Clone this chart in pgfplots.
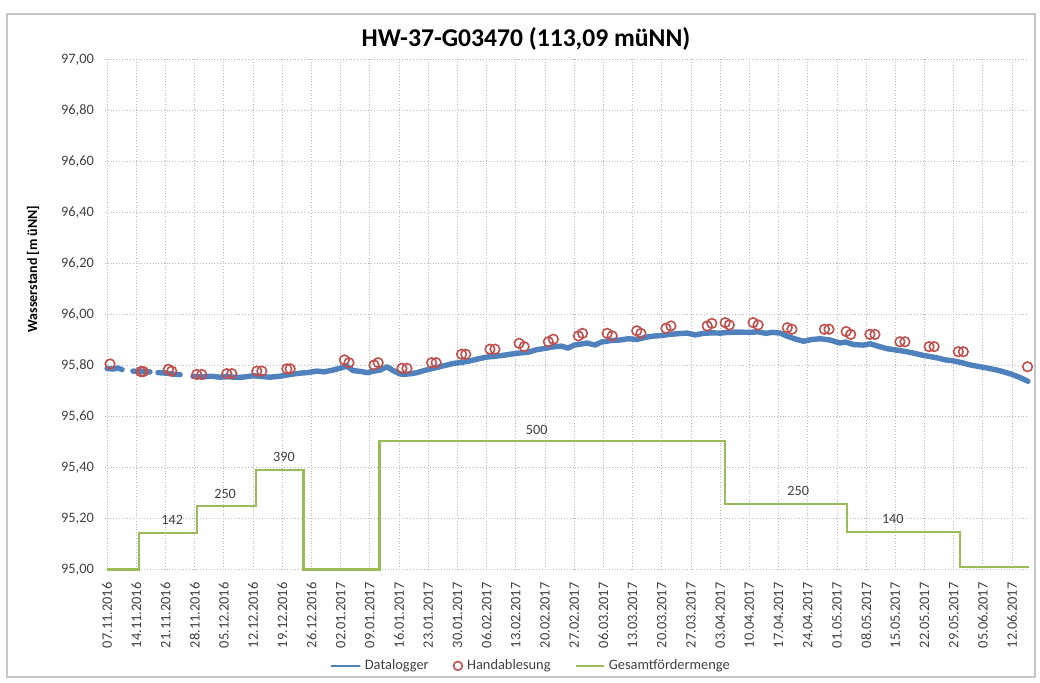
\documentclass[border=0pt]{standalone}
\usepackage{fontspec}
\setmainfont{Carlito}
\usepackage{pgfplots}
\pgfplotsset{compat=1.18}
\usepackage{pgfplotstable}
\definecolor{dlblue}{RGB}{79,129,189}
\definecolor{hared}{RGB}{192,80,77}
\definecolor{fmgreen}{RGB}{155,187,89}
\definecolor{txt}{RGB}{64,64,64}

\pgfplotstableread{
day val
0 95.788
1.5 95.786
2.5 95.790
3.6 95.784
nan nan
6.2 95.778
8 95.776
10.3 95.775
nan nan
12.2 95.772
14 95.770
16 95.766
17.5 95.764
nan nan
20.6 95.757
23 95.755
25 95.758
27 95.754
29 95.756
31 95.753
33 95.755
35 95.760
37 95.757
39 95.754
41.5 95.758
44 95.765
46.3 95.770
48 95.772
50.3 95.778
52 95.775
54.2 95.782
56 95.790
57.5 95.797
59 95.780
61 95.776
62.3 95.772
64 95.778
65.5 95.782
67.1 95.795
68.6 95.780
70 95.768
71 95.765
73 95.768
74.3 95.772
76 95.780
77.4 95.786
79 95.792
81 95.800
83 95.808
85 95.812
87 95.818
89 95.826
91.1 95.833
93 95.836
95 95.840
97 95.845
99 95.849
101 95.852
103 95.862
105 95.867
106.9 95.873
109 95.876
110.5 95.868
112 95.880
114 95.885
115.1 95.888
117 95.880
118.5 95.892
121 95.898
123 95.900
125 95.905
127 95.902
129 95.910
130.9 95.915
133 95.918
135 95.922
137 95.925
139.1 95.927
141 95.920
143 95.926
145 95.928
147 95.927
149 95.930
151 95.931
154.2 95.930
156 95.932
158 95.926
159.5 95.930
161.4 95.927
163 95.915
165.4 95.902
167 95.895
169 95.902
171 95.905
173.3 95.900
175.7 95.888
177 95.892
179 95.882
181.3 95.880
183 95.885
185 95.875
187 95.866
189.4 95.860
191 95.856
193 95.850
195 95.842
197.3 95.835
199 95.830
201 95.822
203 95.818
205.2 95.810
207 95.802
209 95.796
211 95.790
213.4 95.782
215 95.775
217 95.765
219 95.752
220.8 95.738
}\datalogger

\pgfplotstableread{
day val
0.7 95.806
8.1 95.776
8.7 95.776
14.7 95.785
15.5 95.778
21.5 95.765
22.7 95.765
28.7 95.768
29.9 95.768
35.9 95.778
37.1 95.778
43.1 95.787
43.9 95.787
56.9 95.822
58.0 95.811
64.0 95.802
65.0 95.811
70.7 95.789
71.9 95.789
77.8 95.811
78.9 95.811
85.0 95.844
86.0 95.844
91.8 95.864
93.0 95.864
98.8 95.887
100.0 95.874
105.8 95.893
107.0 95.903
113.0 95.916
114.0 95.926
119.9 95.926
121.1 95.916
127.0 95.936
128.0 95.926
134.0 95.946
135.2 95.955
143.9 95.955
145.0 95.965
148.2 95.968
149.2 95.959
154.9 95.968
156.1 95.959
163.1 95.948
164.2 95.942
172.0 95.942
173.1 95.942
177.2 95.933
178.3 95.922
182.9 95.922
184.1 95.922
190.1 95.893
191.3 95.893
197.1 95.874
198.3 95.874
204.1 95.854
205.3 95.854
220.7 95.795
}\handablesung

\pgfplotstableread{
day val
0 95.000
7.7 95.142
21.6 95.250
35.7 95.390
47.1 95.000
65.3 95.505
148.2 95.258
177.5 95.148
204.5 95.010
221 95.010
}\foerder

\begin{document}
\begin{tikzpicture}
\useasboundingbox (0pt,0pt) rectangle (520pt,341.5pt);
\draw[gray!45, line width=0.6pt] (3.5pt,3pt) rectangle (517.5pt,334.5pt);
\node[font=\fontsize{12.8}{15}\selectfont\bfseries, text=black] at (263pt,322pt) {HW-37-G03470 (113,09 müNN)};
\node[font=\fontsize{7}{8}\selectfont\bfseries, text=black, rotate=90] at (16.5pt,207pt) {Wasserstand [m üNN]};
\begin{axis}[
  at={(52.5pt,56.75pt)}, anchor=south west,
  scale only axis, width=461.9pt, height=255pt,
  xmin=-0.5, xmax=221, ymin=95, ymax=97,
  clip=false,
  axis line style={draw=none},
  tick style={draw=none},
  grid=major,
  major grid style={densely dotted, gray!55, line width=0.45pt},
  xtick={0,7,14,21,28,35,42,49,56,63,70,77,84,91,98,105,112,119,126,133,140,147,154,161,168,175,182,189,196,203,210,217},
  xticklabels={07.11.2016,14.11.2016,21.11.2016,28.11.2016,05.12.2016,12.12.2016,19.12.2016,26.12.2016,02.01.2017,09.01.2017,16.01.2017,23.01.2017,30.01.2017,06.02.2017,13.02.2017,20.02.2017,27.02.2017,06.03.2017,13.03.2017,20.03.2017,27.03.2017,03.04.2017,10.04.2017,17.04.2017,24.04.2017,01.05.2017,08.05.2017,15.05.2017,22.05.2017,29.05.2017,05.06.2017,12.06.2017},
  xticklabel style={rotate=90, anchor=east, font=\fontsize{7.2}{8}\selectfont, text=txt, xshift=0pt},
  ytick={95,95.2,95.4,95.6,95.8,96,96.2,96.4,96.6,96.8,97},
  yticklabel style={font=\fontsize{7.2}{8}\selectfont, text=txt,
    /pgf/number format/.cd, fixed, fixed zerofill, precision=2, use comma, assume math mode=true},
  scaled y ticks=false,
  xtick pos=bottom, ytick pos=left,
  major tick length=0pt,
  xticklabel shift=3pt, yticklabel shift=2pt,
  unbounded coords=jump,
  legend columns=3,
  legend style={at={(0.4622,-0.189)}, anchor=center, draw=none, fill=none,
    font=\fontsize{7.2}{8}\selectfont, text=txt,
    /tikz/every even column/.append style={column sep=10pt}},
  legend image code/.code={\draw[#1] (0pt,0pt) -- (14pt,0pt);},
]
\addplot[dlblue, line width=2.7pt, line join=round, line cap=round, legend image code/.code={\draw[dlblue, line width=1.3pt] (0pt,0pt) -- (14pt,0pt);}] table[x=day,y=val] {\datalogger};
\addlegendentry{Datalogger}
\addplot[only marks, mark=o, mark size=2.4pt, hared, mark options={line width=0.8pt}, legend image code/.code={\draw[hared, line width=0.8pt] (7pt,0pt) circle (2.2pt);}] table[x=day,y=val] {\handablesung};
\addlegendentry{Handablesung}
\addplot[fmgreen, line width=1.1pt, const plot] table[x=day,y=val] {\foerder};
\addlegendentry{Gesamtfördermenge}
\node[font=\fontsize{7.1}{8}\selectfont, text=txt] at (axis cs:15.6,95.195) {142};
\node[font=\fontsize{7.1}{8}\selectfont, text=txt] at (axis cs:28.3,95.296) {250};
\node[font=\fontsize{7.1}{8}\selectfont, text=txt] at (axis cs:42.4,95.442) {390};
\node[font=\fontsize{7.1}{8}\selectfont, text=txt] at (axis cs:103,95.547) {500};
\node[font=\fontsize{7.1}{8}\selectfont, text=txt] at (axis cs:165.7,95.309) {250};
\node[font=\fontsize{7.1}{8}\selectfont, text=txt] at (axis cs:188.4,95.198) {140};
\end{axis}
\end{tikzpicture}
\end{document}
